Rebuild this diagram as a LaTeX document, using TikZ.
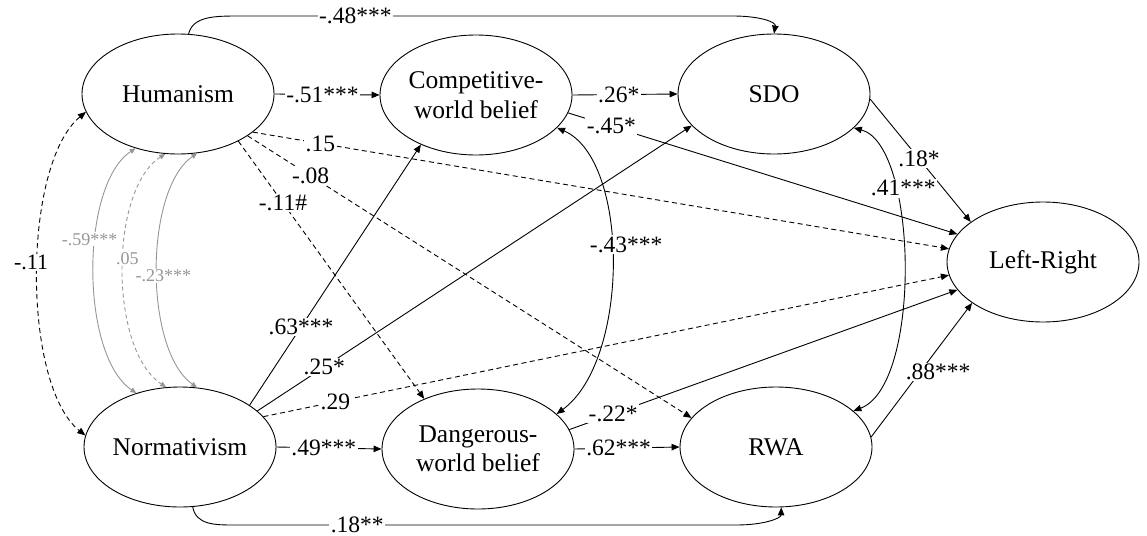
\documentclass[tikz,border=0pt]{standalone}
\usepackage{fontspec}
\setmainfont{Liberation Serif}
\usetikzlibrary{arrows.meta,shapes.geometric}
\definecolor{grayc}{RGB}{150,150,150}
\begin{document}
\begin{tikzpicture}[x=1pt,y=-1pt,
  >={Triangle[length=8pt,width=6.5pt]},
  var/.style={ellipse,draw,line width=0.9pt,minimum width=192pt,minimum height=120pt,inner sep=0pt,align=center,font=\fontsize{25.5}{29.5}\selectfont},
  conn/.style={line width=0.9pt,->},
  dconn/.style={conn,dash pattern=on 5pt off 3.5pt},
  dbl/.style={line width=0.9pt,<->},
  gconn/.style={draw=grayc,line width=0.9pt,>={Triangle[length=6pt,width=5pt]},<->},
  lab/.style={fill=white,inner sep=1.5pt,font=\fontsize{23.5}{26}\selectfont},
  blab/.style={fill=white,inner sep=1.5pt,font=\fontsize{22}{25}\selectfont},
  glab/.style={fill=white,inner sep=1pt,text=grayc,font=\fontsize{18}{20}\selectfont}]
\useasboundingbox (0,0) rectangle (1147,535);

\node[var] (H) at (178,94) {Humanism};
\node[var] (C) at (476,95) {Competitive-\\world belief};
\node[var] (S) at (774,94) {SDO};
\node[var] (LR) at (1043,262) {Left-Right};
\node[var] (N) at (180,447) {Normativism};
\node[var] (D) at (478,449) {Dangerous-\\world belief};
\node[var] (R) at (776,447) {RWA};

% top and bottom arcs
\draw[conn] (H.80) .. controls (193,16) and (215,16) .. (240,16)
  -- node[lab,pos=0.234]{-.48***} (733,16) .. controls (760,16) and (776,22) .. (S.north);
\draw[conn] (N.-78) .. controls (196,525) and (215,525) .. (235,525)
  -- node[lab,pos=0.244]{.18**} (736,525) .. controls (765,525) and (781,518) .. (R.-85);

% horizontal paths
\draw[conn] (H.east) -- node[lab,pos=0.457]{-.51***} (C.west);
\draw[conn] (C.east) -- node[lab,pos=0.44]{.26*} (S.west);
\draw[conn] (N.east) -- node[lab,pos=0.45]{.49***} (D.west);
\draw[conn] (D.east) -- node[lab,pos=0.42]{.62***} (R.west);

% dashed paths from Humanism
\draw[dconn] (H.-27) -- node[lab,pos=0.097]{.15} (LR.172);
\draw[dconn] (H.-31) -- node[lab,pos=0.142]{-.08} (R.161);
\draw[dconn] (H.-38) -- node[lab,pos=0.24]{-.11\#} (D.137);

% paths from Normativism
\draw[conn] (N.31) -- node[lab,pos=0.30]{.63***} (C.222);
\draw[conn] (N.25) -- node[lab,pos=0.154]{.25*} (S.201);
\draw[dconn] (N.20) -- node[lab,pos=0.105]{.29} (LR.188);

% paths to Left-Right
\draw[conn] (C.-11) -- node[lab,pos=0.111]{-.45*} (LR.162);
\draw[conn] (D.12) -- node[lab,pos=0.113]{-.22*} (LR.198);
\draw[conn] (S.-3) -- node[lab,pos=0.485]{.18*} (LR.151);
\draw[conn] (R.6) -- node[lab,pos=0.485,xshift=18pt]{.88***} (LR.210);

% covariances
\draw[dbl] (C.-22) .. controls (630,160) and (630,360) .. node[lab,pos=0.45,xshift=15pt]{-.43***} (D.24);
\draw[dbl] (S.-23) .. controls (918,145) and (922,385) .. node[lab,pos=0.29,xshift=9pt]{.41***} (R.25);
\draw[dbl,dash pattern=on 5pt off 3.5pt] (H.191) .. controls (22,165) and (22,385) .. node[blab,pos=0.47,xshift=-7pt]{-.11} (N.173);

% gray covariances
\draw[gconn] (H.232) .. controls (80,185) and (80,355) .. node[glab,pos=0.4,xshift=-6pt]{-.59***} (N.129);
\draw[gconn,dash pattern=on 4pt off 3pt] (H.258) .. controls (109,190) and (109,350) .. node[glab,pos=0.46,xshift=4pt]{.05} (N.103);
\draw[gconn] (H.288) .. controls (144,190) and (144,350) .. node[glab,pos=0.52,xshift=6pt]{-.23***} (N.74);
\end{tikzpicture}
\end{document}
